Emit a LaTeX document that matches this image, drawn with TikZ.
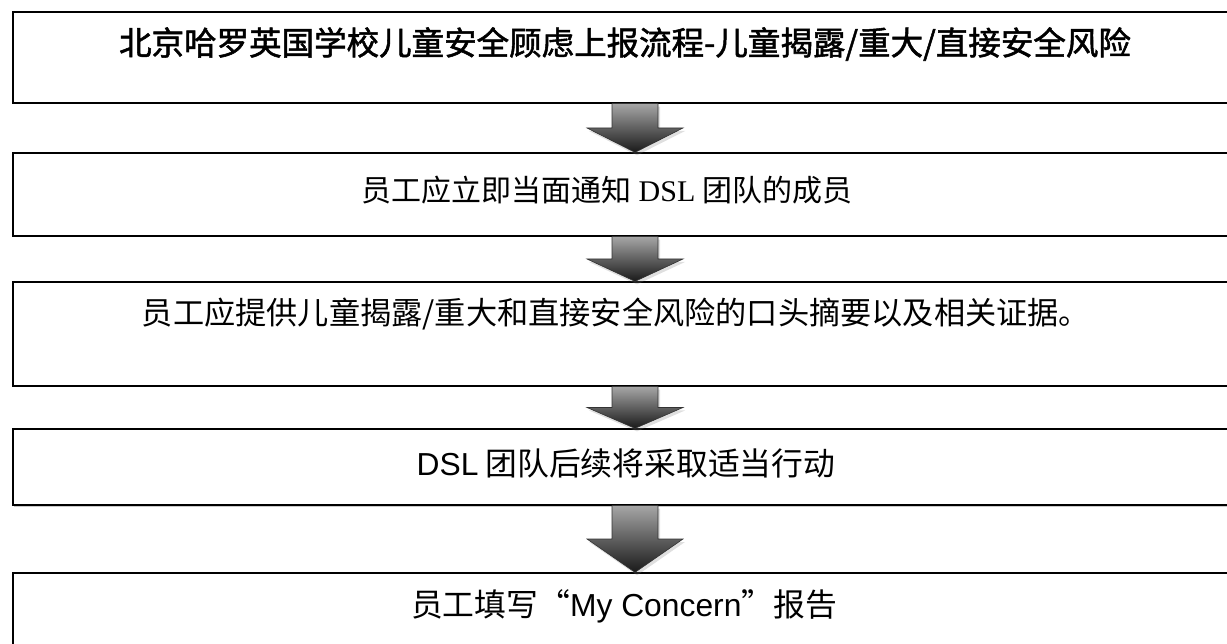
\documentclass[tikz,border=0pt]{standalone}
\usepackage{fontspec}
\setmainfont{Liberation Sans}
\newfontfamily\cjk{Noto Sans CJK SC}
\newfontfamily\cjktitle[FakeBold=1.6]{Noto Sans CJK SC}
\newfontfamily\dslserif{Liberation Serif}
\usetikzlibrary{calc,shadows}
\begin{document}
\begin{tikzpicture}[x=1pt, y=-1pt,
  flowbox/.style={draw=black, line width=1.3pt, fill=white, minimum width=1244pt, inner sep=0pt,
    drop shadow={shadow xshift=1pt, shadow yshift=-1.5pt, opacity=0.35, fill=black!60}},
  flowtext/.style={font=\cjk\fontsize{30}{36}\selectfont, inner sep=0pt},
  flowarrow/.style={draw=black!80, line width=0.6pt, top color=black!35, bottom color=black!90,
    drop shadow={shadow xshift=2pt, shadow yshift=-3pt, opacity=0.25, fill=black!50}}]
\useasboundingbox (0,0) rectangle (1227,644);
\node[flowbox, minimum height=91pt] (titlebox) at (635,57.5) {};
\node[flowbox, minimum height=83pt] (notifybox) at (635,194.5) {};
\node[flowbox, minimum height=104pt] (summarybox) at (635,334) {};
\node[flowbox, minimum height=76pt] (actionbox) at (635,467) {};
\node[flowbox, minimum height=100pt] (reportbox) at (635,623) {};
\node[flowtext, font=\cjktitle\fontsize{32.5}{38}\selectfont] (title) at (625,44) {北京哈罗英国学校儿童安全顾虑上报流程-儿童揭露/重大/直接安全风险};
\node[flowtext] (notify) at (607,190) {员工应立即当面通知 {\dslserif DSL} 团队的成员};
\node[flowtext, font=\cjk\fontsize{31.2}{36}\selectfont] (summary) at (616,314) {员工应提供儿童揭露/重大和直接安全风险的口头摘要以及相关证据。};
\node[flowtext, font=\cjk\fontsize{31.8}{36}\selectfont] (action) at (626,463) {{\rmfamily DSL} 团队后续将采取适当行动};
\node[flowtext, font=\cjk\fontsize{31.8}{36}\selectfont] (report) at (624,606) {员工填写“{\rmfamily My Concern}”报告};
\coordinate (m1) at ($(titlebox.south)!.5!(notifybox.north)$);
\path[flowarrow] ([xshift=-23pt]titlebox.south) -- ([xshift=23pt]titlebox.south) -- ([xshift=23pt]m1) -- ([xshift=48pt]m1) -- (notifybox.north) -- ([xshift=-48pt]m1) -- ([xshift=-23pt]m1) -- cycle;
\coordinate (m2) at ($(notifybox.south)!.5!(summarybox.north)$);
\path[flowarrow] ([xshift=-23pt]notifybox.south) -- ([xshift=23pt]notifybox.south) -- ([xshift=23pt]m2) -- ([xshift=48pt]m2) -- (summarybox.north) -- ([xshift=-48pt]m2) -- ([xshift=-23pt]m2) -- cycle;
\coordinate (m3) at ($(summarybox.south)!.5!(actionbox.north)$);
\path[flowarrow] ([xshift=-23pt]summarybox.south) -- ([xshift=23pt]summarybox.south) -- ([xshift=23pt]m3) -- ([xshift=48pt]m3) -- (actionbox.north) -- ([xshift=-48pt]m3) -- ([xshift=-23pt]m3) -- cycle;
\coordinate (m4) at ($(actionbox.south)!.5!(reportbox.north)$);
\path[flowarrow] ([xshift=-23pt]actionbox.south) -- ([xshift=23pt]actionbox.south) -- ([xshift=23pt]m4) -- ([xshift=48pt]m4) -- (reportbox.north) -- ([xshift=-48pt]m4) -- ([xshift=-23pt]m4) -- cycle;
\end{tikzpicture}
\end{document}
